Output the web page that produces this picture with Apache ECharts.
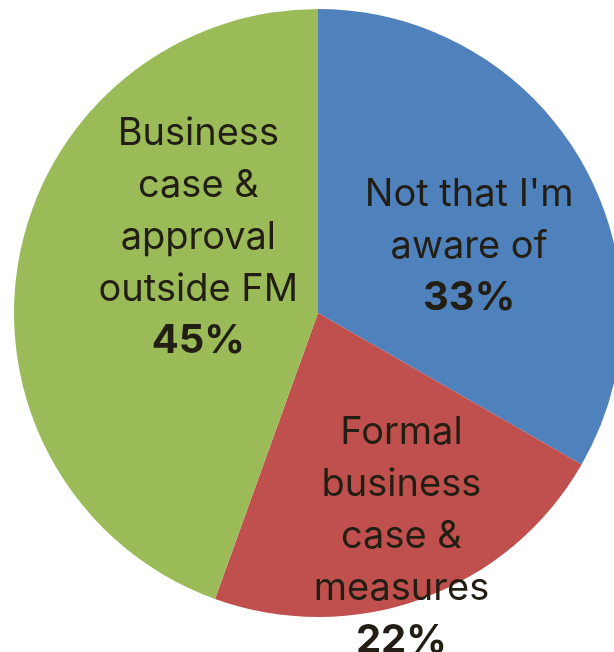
<!DOCTYPE html>
<html>
<head>
<meta charset="utf-8">
<script src="https://cdn.jsdelivr.net/npm/echarts@6/dist/echarts.min.js"></script>
<style>
  html, body { margin: 0; padding: 0; background: #ffffff; }
  #chart { width: 614px; height: 652px; }
</style>
</head>
<body>
<div id="chart"></div>
<script>
const categories = ["Not that I'm\naware of", "Formal\nbusiness\ncase &\nmeasures", "Business\ncase &\napproval\noutside FM"];
const values = [33.3, 22.2, 44.5];
const colors = ['#4F81BD', '#C0504D', '#9BBB59'];
const labelShift = [[17, 11], [30, 78], [33, -49]];

const chart = echarts.init(document.getElementById('chart'), null, { renderer: 'canvas' });

chart.setOption({
  backgroundColor: '#ffffff',
  animation: false,
  series: [{
    type: 'pie',
    center: [318, 313],
    radius: 304,
    startAngle: 90,
    clockwise: true,
    silent: true,
    avoidLabelOverlap: false,
    data: categories.map((c, i) => ({ name: c, value: values[i], itemStyle: { color: colors[i] } })),
    itemStyle: { borderWidth: 0 },
    label: {
      show: true,
      position: 'inside',
      formatter: p => p.name.split('\n').map(s => '{t|' + s + '}').join('\n') + '\n{p|' + Math.round(p.value) + '%}',
      rich: {
        t: { fontFamily: 'Inter', fontSize: 38, fontWeight: 400, color: '#221e14', lineHeight: 52, align: 'center' },
        p: { fontFamily: 'Inter', fontSize: 40, fontWeight: 700, color: '#221e14', lineHeight: 52, align: 'center' }
      }
    },
    labelLine: { show: false },
    labelLayout: params => ({ dx: labelShift[params.dataIndex][0], dy: labelShift[params.dataIndex][1] })
  }]
});
</script>
</body>
</html>
